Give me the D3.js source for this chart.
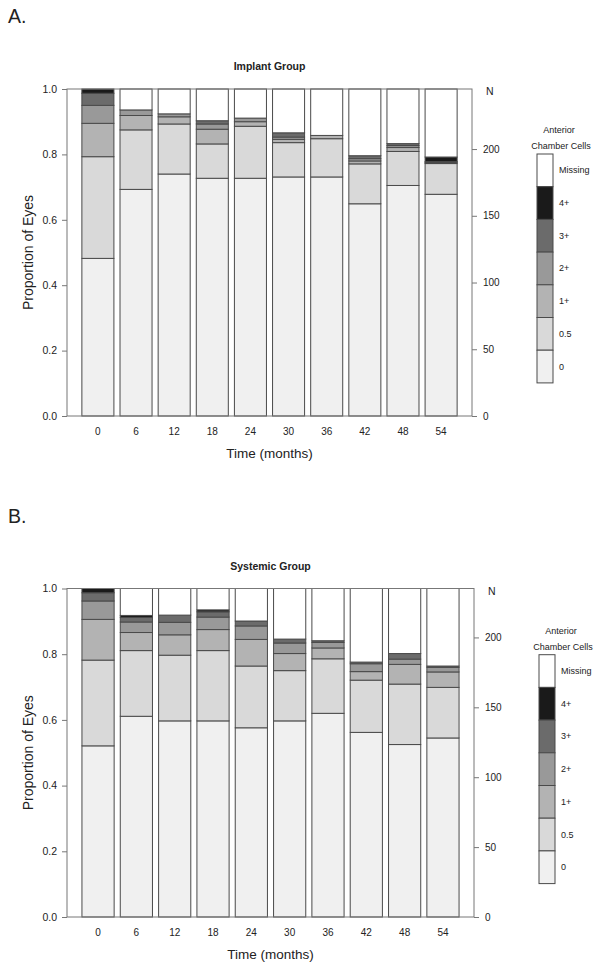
<!DOCTYPE html>
<html>
<head>
<meta charset="utf-8">
<script src="https://cdn.jsdelivr.net/npm/d3@7"></script>
<style>
  html, body { margin: 0; padding: 0; background: #fff; }
  svg { display: block; }
  text { font-family: "Liberation Sans", Arial, Helvetica, sans-serif; fill: #222; }
</style>
</head>
<body>
<svg id="chart" width="602" height="971"></svg>
<script>
// ---------- DATA ----------
const months = ["0", "6", "12", "18", "24", "30", "36", "42", "48", "54"];
const categories = ["0", "0.5", "1+", "2+", "3+", "4+", "Missing"];
const categoryColors = ["#f0f0f0", "#d9d9d9", "#b3b3b3", "#999999", "#6b6b6b", "#1a1a1a", "#ffffff"];
const propTicks = [0, 0.2, 0.4, 0.6, 0.8, 1.0];
const nTicks = [0, 50, 100, 150, 200];

// Implant group: proportion of eyes in each category at each time point
const implant_0       = [0.482, 0.693, 0.740, 0.727, 0.727, 0.731, 0.731, 0.649, 0.705, 0.678];
const implant_05      = [0.311, 0.182, 0.153, 0.105, 0.159, 0.105, 0.117, 0.122, 0.104, 0.094];
const implant_1plus   = [0.102, 0.044, 0.022, 0.045, 0.014, 0.010, 0.010, 0.009, 0.012, 0.003];
const implant_2plus   = [0.055, 0.017, 0.009, 0.016, 0.011, 0.007, 0.000, 0.007, 0.006, 0.003];
const implant_3plus   = [0.037, 0.000, 0.000, 0.010, 0.000, 0.013, 0.000, 0.009, 0.006, 0.000];
const implant_4plus   = [0.013, 0.000, 0.000, 0.000, 0.000, 0.000, 0.000, 0.000, 0.000, 0.014];
const implant_missing = [0.000, 0.064, 0.076, 0.097, 0.089, 0.134, 0.142, 0.204, 0.167, 0.208];
const implantNMax = 245;

// Systemic group
const systemic_0       = [0.521, 0.611, 0.597, 0.597, 0.576, 0.597, 0.620, 0.562, 0.525, 0.545];
const systemic_05      = [0.261, 0.200, 0.200, 0.214, 0.188, 0.153, 0.166, 0.159, 0.184, 0.154];
const systemic_1plus   = [0.124, 0.055, 0.062, 0.064, 0.081, 0.052, 0.033, 0.026, 0.060, 0.047];
const systemic_2plus   = [0.056, 0.032, 0.038, 0.038, 0.041, 0.032, 0.017, 0.024, 0.016, 0.014];
const systemic_3plus   = [0.025, 0.014, 0.022, 0.016, 0.015, 0.012, 0.005, 0.005, 0.017, 0.004];
const systemic_4plus   = [0.013, 0.006, 0.000, 0.006, 0.000, 0.000, 0.000, 0.000, 0.000, 0.000];
const systemic_missing = [0.000, 0.082, 0.081, 0.065, 0.099, 0.154, 0.159, 0.224, 0.198, 0.236];
const systemicNMax = 235;

// ---------- DRAW ----------
const svg = d3.select("#chart");
const FONT_TICK = 10.5;

function buildRows(seriesList) {
  return months.map((m, i) => {
    const row = { month: m };
    categories.forEach((c, k) => { row[c] = seriesList[k][i]; });
    return row;
  });
}

function drawPanel(opt) {
  const g = svg.append("g");
  const rows = buildRows(opt.series);
  const x = d3.scaleBand().domain(months).range([opt.left, opt.right])
    .paddingInner(0.16).paddingOuter(0.39);
  const y = d3.scaleLinear().domain([0, 1]).range([opt.bottom, opt.top]);
  const yN = d3.scaleLinear().domain([0, opt.nMax]).range([opt.bottom, opt.top]);
  const color = d3.scaleOrdinal().domain(categories).range(categoryColors);

  const stack = d3.stack().keys(categories);
  const layers = stack(rows);

  // bars
  g.append("g").selectAll("g").data(layers).join("g")
    .attr("fill", d => color(d.key))
    .selectAll("rect").data(d => d.filter(p => p[1] - p[0] > 0)).join("rect")
      .attr("x", d => x(d.data.month))
      .attr("width", x.bandwidth())
      .attr("y", d => y(d[1]))
      .attr("height", d => y(d[0]) - y(d[1]))
      .attr("stroke", "#4a4a4a")
      .attr("stroke-width", 1);

  // box
  g.append("rect")
    .attr("x", opt.left).attr("y", opt.top)
    .attr("width", opt.right - opt.left).attr("height", opt.bottom - opt.top)
    .attr("fill", "none").attr("stroke", "#777").attr("stroke-width", 1);

  // left axis
  const leftAxis = d3.axisLeft(y).tickValues(propTicks).tickFormat(d3.format(".1f"))
    .tickSize(5).tickPadding(5);
  const la = g.append("g").attr("transform", `translate(${opt.left},0)`).call(leftAxis);
  la.select(".domain").remove();
  la.selectAll("line").attr("stroke", "#777");
  la.selectAll("text").style("font-size", FONT_TICK + "px").attr("fill", "#222");

  // right axis (N)
  const rightAxis = d3.axisRight(yN).tickValues(nTicks).tickSize(5).tickPadding(6);
  const ra = g.append("g").attr("transform", `translate(${opt.right},0)`).call(rightAxis);
  ra.select(".domain").remove();
  ra.selectAll("line").attr("stroke", "#777");
  ra.selectAll("text").style("font-size", "10px").attr("fill", "#222");
  g.append("text").attr("x", opt.right + 14).attr("y", opt.top + 6)
    .style("font-size", "10.5px").text("N");

  // bottom tick labels (no tick marks)
  const bottomAxis = d3.axisBottom(x).tickSize(0).tickPadding(12);
  const ba = g.append("g").attr("transform", `translate(0,${opt.bottom})`).call(bottomAxis);
  ba.select(".domain").remove();
  ba.selectAll("text").style("font-size", "10px").attr("fill", "#222");

  // axis titles
  g.append("text").attr("x", (opt.left + opt.right) / 2).attr("y", opt.bottom + 42)
    .attr("text-anchor", "middle").style("font-size", "13.5px").text("Time (months)");
  g.append("text")
    .attr("transform", `translate(28,${(opt.top + opt.bottom) / 2}) rotate(-90)`)
    .attr("text-anchor", "middle").attr("dominant-baseline", "central")
    .style("font-size", "14px").text("Proportion of Eyes");

  // panel title
  g.append("text").attr("x", (opt.left + opt.right) / 2).attr("y", opt.top - 19)
    .attr("text-anchor", "middle").style("font-size", "10.5px").style("font-weight", "bold")
    .text(opt.title);

  // panel letter
  g.append("text").attr("x", 8).attr("y", opt.letterY)
    .style("font-size", "19.5px").text(opt.letter);

  // legend
  const lg = g.append("g");
  const boxH = 32.7, boxW = 16;
  lg.append("text").attr("x", opt.legendX + 22).attr("y", opt.legendTop - 21)
    .attr("text-anchor", "middle").style("font-size", "9px").text("Anterior");
  lg.append("text").attr("x", opt.legendX + 24).attr("y", opt.legendTop - 5)
    .attr("text-anchor", "middle").style("font-size", "9px").text("Chamber Cells");
  const legendOrder = categories.slice().reverse();
  legendOrder.forEach((c, i) => {
    lg.append("rect")
      .attr("x", opt.legendX).attr("y", opt.legendTop + i * boxH)
      .attr("width", boxW).attr("height", boxH)
      .attr("fill", color(c)).attr("stroke", "#4a4a4a").attr("stroke-width", 1);
    lg.append("text")
      .attr("x", opt.legendX + boxW + 6).attr("y", opt.legendTop + i * boxH + boxH / 2)
      .attr("dominant-baseline", "central").style("font-size", "9px").text(c);
  });
}

drawPanel({
  title: "Implant Group", letter: "A.", letterY: 23,
  left: 67, right: 472, top: 89, bottom: 416, nMax: implantNMax,
  series: [implant_0, implant_05, implant_1plus, implant_2plus, implant_3plus, implant_4plus, implant_missing],
  legendX: 537, legendTop: 154
});

drawPanel({
  title: "Systemic Group", letter: "B.", letterY: 523,
  left: 67, right: 474, top: 588.5, bottom: 917, nMax: systemicNMax,
  series: [systemic_0, systemic_05, systemic_1plus, systemic_2plus, systemic_3plus, systemic_4plus, systemic_missing],
  legendX: 539, legendTop: 654.7
});
</script>
</body>
</html>
